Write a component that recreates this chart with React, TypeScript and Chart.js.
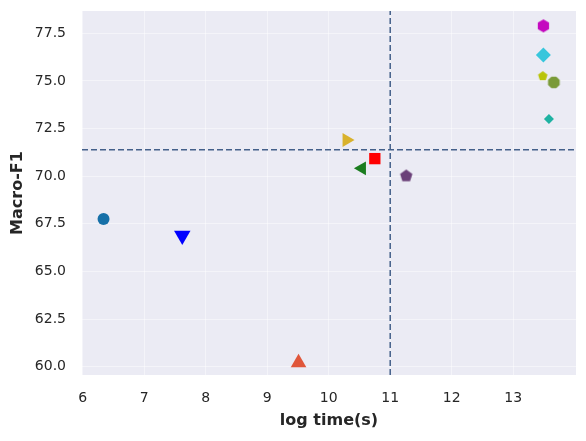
import { useEffect, useRef } from "react";
import { Chart, registerables } from "chart.js";
Chart.register(...registerables);

// Data
const methods = ["M1", "M2", "M3", "M4", "M5", "M6", "M7", "M8", "M9", "M10", "M11", "M12"];
const logTime = [6.34, 7.62, 9.51, 10.29, 10.54, 10.75, 11.26, 13.49, 13.49, 13.48, 13.66, 13.58];
const macroF1 = [67.75, 66.88, 60.2, 71.9, 70.41, 70.92, 70.01, 77.89, 76.36, 75.25, 74.92, 73.0];
const xTicks = [6, 7, 8, 9, 10, 11, 12, 13];
const yTicks = [60, 62.5, 65, 67.5, 70, 72.5, 75, 77.5];
const refLogTime = 11.0;
const refMacroF1 = 71.38;
const xRange = [5.99, 14.02];
const yRange = [59.56, 78.67];

// Marker styles
type Marker = { shape: string; color: string; r: number; rot?: number };
const markers: Marker[] = [
  { shape: "circle", color: "#1670a8", r: 6 },
  { shape: "triangle", color: "#0000ff", r: 9.5, rot: 180 },
  { shape: "triangle", color: "#e0563a", r: 9 },
  { shape: "triangle", color: "#d9b22c", r: 8, rot: 90 },
  { shape: "triangle", color: "#1b7d1f", r: 8, rot: -90 },
  { shape: "rect", color: "#ff0000", r: 8 },
  { shape: "pentagon", color: "#6b4079", r: 6.5 },
  { shape: "hexagon", color: "#c409bf", r: 6.5 },
  { shape: "rectRot", color: "#38c6dc", r: 7.5 },
  { shape: "pentagon", color: "#b9c40a", r: 5 },
  { shape: "octagon", color: "#7a9a38", r: 6.3 },
  { shape: "rectRot", color: "#1fb2a2", r: 5 },
];

function polygonImage(sides: number, r: number, color: string): HTMLCanvasElement {
  const s = Math.ceil(2 * r + 2);
  const c = document.createElement("canvas");
  c.width = s;
  c.height = s;
  const ctx = c.getContext("2d")!;
  ctx.fillStyle = color;
  ctx.beginPath();
  const offset = sides === 8 ? Math.PI / 8 : 0;
  for (let i = 0; i < sides; i++) {
    const a = -Math.PI / 2 + offset + (i * 2 * Math.PI) / sides;
    const x = s / 2 + r * Math.cos(a);
    const y = s / 2 + r * Math.sin(a);
    if (i === 0) ctx.moveTo(x, y);
    else ctx.lineTo(x, y);
  }
  ctx.closePath();
  ctx.fill();
  return c;
}

function pointStyleFor(m: Marker): any {
  if (m.shape === "pentagon") return polygonImage(5, m.r, m.color);
  if (m.shape === "hexagon") return polygonImage(6, m.r, m.color);
  if (m.shape === "octagon") return polygonImage(8, m.r, m.color);
  return m.shape;
}

const bgPlugin = {
  id: "bgPlugin",
  beforeDraw(chart: any) {
    const { ctx, chartArea } = chart;
    ctx.save();
    ctx.fillStyle = "#ffffff";
    ctx.fillRect(0, 0, chart.width, chart.height);
    ctx.fillStyle = "#ebebf4";
    ctx.fillRect(chartArea.left, chartArea.top, chartArea.right - chartArea.left, chartArea.bottom - chartArea.top);
    ctx.restore();
  },
};

export default function App() {
  const ref = useRef<HTMLCanvasElement>(null);
  useEffect(() => {
    const dashColor = "#44608a";
    const pointSets = methods.map((name, i) => {
      const m = markers[i];
      return {
        type: "scatter" as const,
        label: name,
        data: [{ x: logTime[i], y: macroF1[i] }],
        pointStyle: pointStyleFor(m),
        pointRadius: m.r,
        pointRotation: m.rot ?? 0,
        backgroundColor: m.color,
        borderColor: m.color,
        borderWidth: 0,
        order: 0,
      };
    });
    const chart = new Chart(ref.current!, {
      type: "scatter",
      data: {
        datasets: [
          {
            type: "line",
            label: "hline",
            data: [
              { x: xRange[0], y: refMacroF1 },
              { x: xRange[1], y: refMacroF1 },
            ],
            borderColor: dashColor,
            borderWidth: 1.5,
            borderDash: [6, 3],
            pointRadius: 0,
            showLine: true,
            order: 1,
          },
          {
            type: "line",
            label: "vline",
            data: [
              { x: refLogTime, y: yRange[0] },
              { x: refLogTime, y: yRange[1] },
            ],
            borderColor: dashColor,
            borderWidth: 1.5,
            borderDash: [6, 3],
            pointRadius: 0,
            showLine: true,
            order: 1,
          },
          ...pointSets,
        ] as any,
      },
      options: {
        responsive: false,
        animation: false,
        layout: { padding: { left: 0, right: 10, top: 11, bottom: 0 } },
        plugins: { legend: { display: false }, tooltip: { enabled: false } },
        scales: {
          x: {
            type: "linear",
            min: xRange[0],
            max: xRange[1],
            afterBuildTicks: (s: any) => {
              s.ticks = xTicks.map((v) => ({ value: v }));
            },
            afterFit: (s: any) => {
              s.height = 66;
              s.paddingLeft = 0;
              s.paddingRight = 0;
            },
            grid: { color: "rgba(255,255,255,0.45)", lineWidth: 1, drawTicks: false },
            border: { display: false },
            ticks: {
              padding: 15,
              color: "#262626",
              font: { family: "DejaVu Sans", size: 14 },
              callback: (v: any) => String(v),
            },
            title: {
              display: true,
              text: "log time(s)",
              color: "#262626",
              font: { family: "DejaVu Sans", size: 16, weight: "bold" },
              padding: { top: 0, bottom: 11 },
            },
          },
          y: {
            type: "linear",
            min: yRange[0],
            max: yRange[1],
            afterBuildTicks: (s: any) => {
              s.ticks = yTicks.map((v) => ({ value: v }));
            },
            afterFit: (s: any) => {
              s.width = 82;
              s.paddingTop = 0;
              s.paddingBottom = 0;
            },
            grid: { color: "rgba(255,255,255,0.45)", lineWidth: 1, drawTicks: false },
            border: { display: false },
            ticks: {
              padding: 16,
              color: "#262626",
              font: { family: "DejaVu Sans", size: 14 },
              callback: (v: any) => Number(v).toFixed(1),
            },
            title: {
              display: true,
              text: "Macro-F1",
              color: "#262626",
              font: { family: "DejaVu Sans", size: 16, weight: "bold" },
              padding: { top: 8, bottom: 0 },
            },
          },
        },
      },
      plugins: [bgPlugin],
    });
    return () => chart.destroy();
  }, []);
  return (
    <div style={{ position: "fixed", left: 0, top: 0, width: 586, height: 441, background: "#fff" }}>
      <canvas ref={ref} width={586} height={441} style={{ display: "block" }} />
    </div>
  );
}
